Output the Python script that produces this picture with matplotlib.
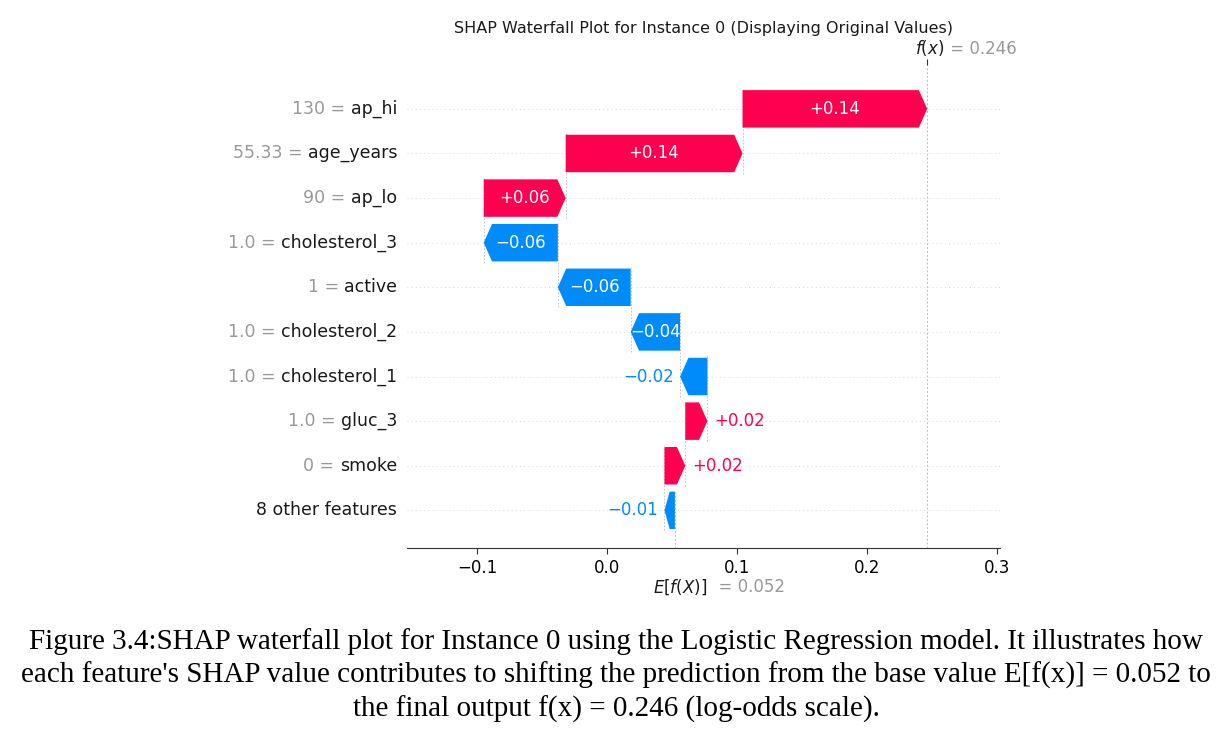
import matplotlib.pyplot as plt
from matplotlib.transforms import blended_transform_factory

# features listed top to bottom, as in the picture
features = ["ap_hi", "age_years", "ap_lo", "cholesterol_3", "active",
            "cholesterol_2", "cholesterol_1", "gluc_3", "smoke", "8 other features"]
feature_values = ["130", "55.33", "90", "1.0", "1", "1.0", "1.0", "1.0", "0", ""]
shap_values = [0.142, 0.136, 0.063, -0.057, -0.056, -0.038, -0.021, 0.017, 0.016, -0.008]
base_value = 0.052
fx_value = 0.246
x_ticks = [-0.1, 0.0, 0.1, 0.2, 0.3]

title = "SHAP Waterfall Plot for Instance 0 (Displaying Original Values)"
caption = ("Figure 3.4:SHAP waterfall plot for Instance 0 using the Logistic Regression model. It illustrates how\n"
           "each feature's SHAP value contributes to shifting the prediction from the base value E[f(x)] = 0.052 to\n"
           "the final output f(x) = 0.246 (log-odds scale).")

red = "#ff0051"
blue = "#008bfb"
grey_text = "#999999"
line_grey = "#bbbbbb"

fig = plt.figure(figsize=(12.23, 7.32), dpi=100)
ax = fig.add_axes([0.333, 0.251, 0.485, 0.66])

n = len(features)
ypos = [n - 1 - k for k in range(n)]

# cumulative start positions, built from the bottom row up
starts = [0.0] * n
pos = base_value
for k in range(n - 1, -1, -1):
    starts[k] = pos
    pos += shap_values[k]

bar_h = 0.84
head_len = 0.0064

# dotted row guides
for y in ypos:
    ax.axhline(y, color="#cccccc", lw=0.6, dashes=(1, 4), zorder=-2)

# vertical reference lines
ax.axvline(fx_value, color=line_grey, lw=0.7, ls=(0, (2, 2)), zorder=-1)
ax.plot([base_value, base_value], [-0.85, 0.45], color=line_grey, lw=0.7,
        ls=(0, (2, 2)), zorder=-1)

for k in range(n):
    v = shap_values[k]
    y = ypos[k]
    col = red if v > 0 else blue
    hl = min(head_len, abs(v) * 0.5)
    ax.arrow(starts[k], y, v, 0, width=bar_h, head_width=bar_h, head_length=hl,
             length_includes_head=True, color=col, lw=0, zorder=2)
    if k < n - 1:
        ax.plot([starts[k], starts[k]], [y - 1 - 0.45, y + 0.45],
                color=line_grey, lw=0.6, ls=(0, (2, 2)), zorder=-1)

    txt = ("+" if v > 0 else "\u2212") + f"{abs(v):.2f}"
    if abs(v) >= 0.03:
        ax.text(starts[k] + v / 2, y, txt, color="white", ha="center", va="center",
                fontsize=12, zorder=3)
    elif v > 0:
        ax.text(starts[k] + v + 0.005, y, txt, color=red, ha="left", va="center",
                fontsize=12, zorder=3)
    else:
        ax.text(starts[k] + v - 0.005, y, txt, color=blue, ha="right", va="center",
                fontsize=12, zorder=3)

# y labels: grey value then black feature name
trans = blended_transform_factory(ax.transAxes, ax.transData)
for k in range(n):
    name_t = ax.text(-0.017, ypos[k], features[k], transform=trans, ha="right",
                     va="center", fontsize=12.5, color="#1a1a1a")
    if feature_values[k]:
        ax.annotate(feature_values[k] + " = ", xy=(0, ypos[k]),
                    xycoords=(name_t, ax.transData), ha="right", va="center",
                    fontsize=12.5, color=grey_text, annotation_clip=False)

ax.set_xlim(-0.1538, 0.3023)
ax.set_ylim(-0.85, 9.98)
ax.set_xticks(x_ticks)
ax.set_xticklabels(["\u22120.1", "0.0", "0.1", "0.2", "0.3"])
ax.set_yticks([])
ax.tick_params(axis="x", labelsize=12, length=4, color="#333333")
for side in ["top", "right", "left"]:
    ax.spines[side].set_visible(False)
ax.spines["bottom"].set_color("#333333")

# top f(x) marker
ax2 = ax.twiny()
ax2.set_xlim(ax.get_xlim())
ax2.set_xticks([fx_value])
ax2.set_xticklabels([""])
ax2.tick_params(axis="x", length=4, color="#333333")
for side in ["top", "right", "left", "bottom"]:
    ax2.spines[side].set_visible(False)

fx_t = ax.annotate("$f(x)$", xy=(fx_value, 1), xycoords=("data", "axes fraction"),
                   xytext=(2, 5), textcoords="offset points", ha="center",
                   va="bottom", fontsize=12, color="#1a1a1a", annotation_clip=False)
ax.annotate(f" = {fx_value:.3f}", xy=(1, 0), xycoords=fx_t, ha="left", va="bottom",
            fontsize=12, color=grey_text, annotation_clip=False)

ex_t = ax.annotate("$E[f(X)]$", xy=(base_value, 0), xycoords=("data", "axes fraction"),
                   xytext=(4, -28), textcoords="offset points", ha="center",
                   va="center", fontsize=12, color="#1a1a1a", annotation_clip=False)
ax.annotate(f"  = {base_value:.3f}", xy=(1, 0.5), xycoords=ex_t, ha="left",
            va="center", fontsize=12, color=grey_text, annotation_clip=False)

ax.text(0.5, 1.075, title, transform=ax.transAxes, ha="center", va="center",
        fontsize=11.5, color="#1a1a1a")

fig.text(0.504, 0.142, caption, ha="center", va="top", family="Liberation Serif",
         fontsize=21, linespacing=1.33)

fig.savefig("out.png", dpi=100)
